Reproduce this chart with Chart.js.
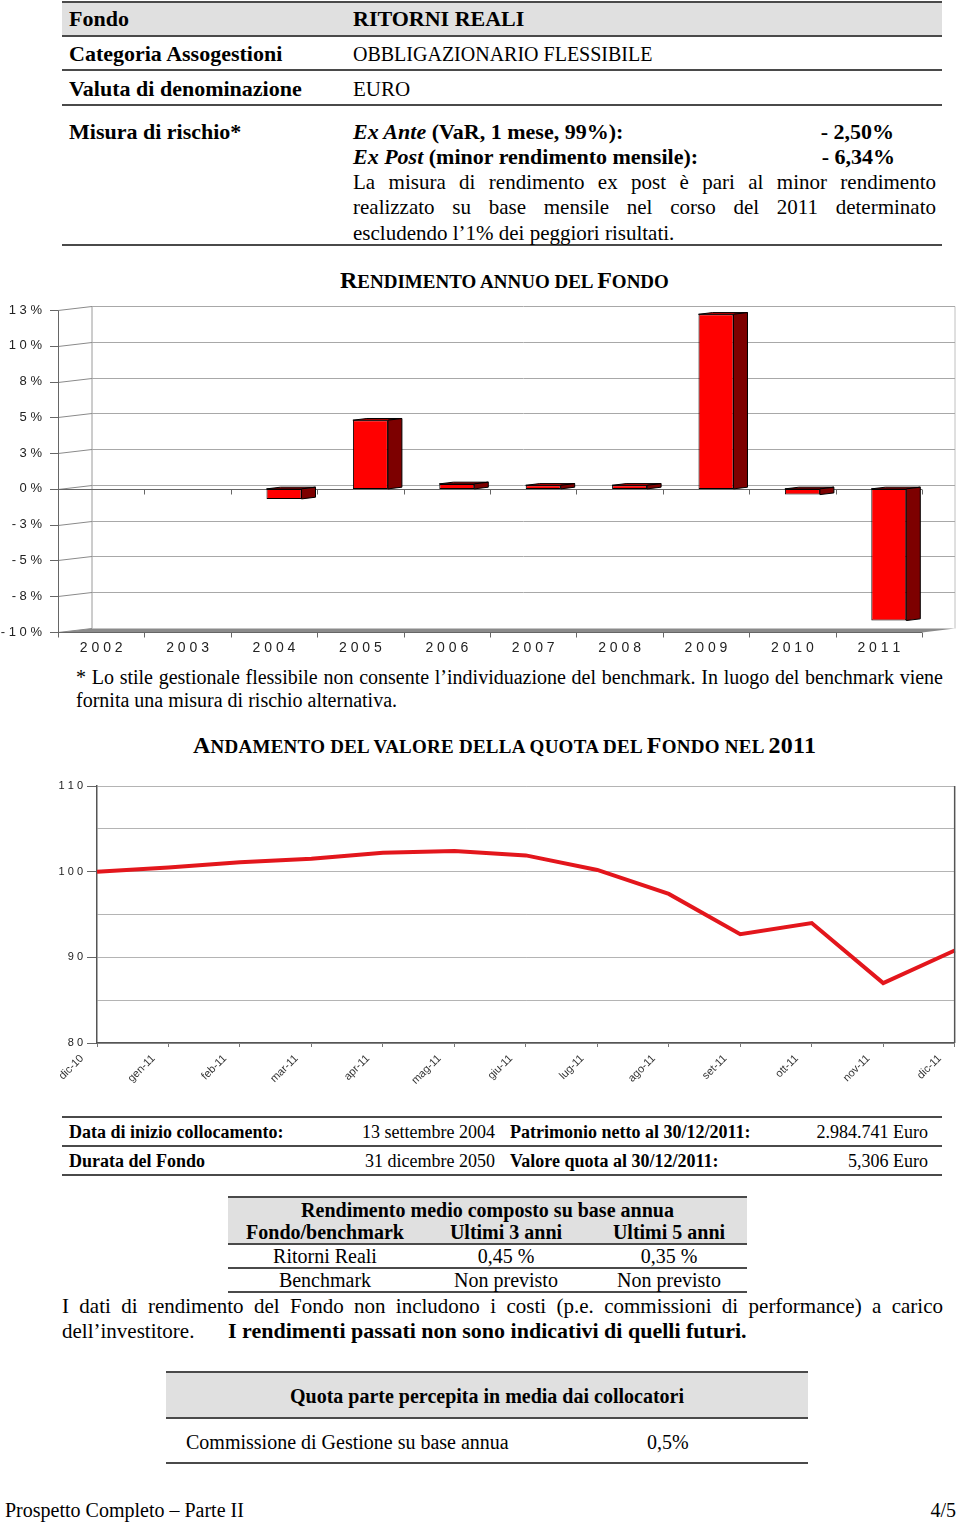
<!DOCTYPE html>
<html><head><meta charset="utf-8">
<script src="https://cdn.jsdelivr.net/npm/chart.js@4.4.1/dist/chart.umd.min.js"></script>
<style>
html,body{margin:0;padding:0;background:#fff;}
#page{position:relative;width:960px;height:1522px;overflow:hidden;background:#fff;}
.t{position:absolute;white-space:nowrap;font-family:'Liberation Serif','Times New Roman',serif;line-height:1;color:#000;}
.b{font-weight:bold;}
.hl{position:absolute;height:2px;background:#4a4a4a;}
.band{position:absolute;background:#e0e0e0;}
.j{white-space:normal;text-align:justify;text-align-last:justify;}
.big{font-size:24px;}
.sm{font-size:19px;}
canvas{position:absolute;left:0;}
</style></head>
<body><div id="page">

<!-- top table -->
<div class="band" style="left:62px;top:3px;width:880px;height:32px;"></div>
<div class="hl" style="left:62px;top:1px;width:880px;"></div>
<div class="hl" style="left:62px;top:35px;width:880px;"></div>
<div class="hl" style="left:62px;top:69px;width:880px;"></div>
<div class="hl" style="left:62px;top:104px;width:880px;"></div>
<div class="hl" style="left:62px;top:244px;width:880px;"></div>

<div class="t b" style="left:69px;top:8px;font-size:22px;">Fondo</div>
<div class="t b" style="left:353px;top:8px;font-size:22px;">RITORNI REALI</div>
<div class="t b" style="left:69px;top:43px;font-size:22px;">Categoria Assogestioni</div>
<div class="t" style="left:353px;top:44px;font-size:20px;">OBBLIGAZIONARIO FLESSIBILE</div>
<div class="t b" style="left:69px;top:78px;font-size:22px;">Valuta di denominazione</div>
<div class="t" style="left:353px;top:78.5px;font-size:21px;">EURO</div>

<div class="t b" style="left:69px;top:121px;font-size:22px;">Misura di rischio*</div>
<div class="t b" style="left:353px;top:121px;font-size:22px;"><i>Ex Ante</i> (VaR, 1 mese, 99%):</div>
<div class="t b" style="right:66px;top:121px;font-size:22px;">- 2,50%</div>
<div class="t b" style="left:353px;top:146px;font-size:22px;"><i>Ex Post</i> (minor rendimento mensile):</div>
<div class="t b" style="right:65px;top:146px;font-size:22px;">- 6,34%</div>
<div class="t j" style="left:353px;top:171.5px;width:583px;font-size:21px;">La misura di rendimento ex post è pari al minor rendimento</div>
<div class="t j" style="left:353px;top:196.5px;width:583px;font-size:21px;">realizzato su base mensile nel corso del 2011 determinato</div>
<div class="t" style="left:353px;top:222.5px;font-size:21px;">escludendo l’1% dei peggiori risultati.</div>

<!-- chart 1 -->
<div class="t b" style="left:340px;top:268px;font-size:24px;"><span class="big">R</span><span class="sm">ENDIMENTO ANNUO DEL </span><span class="big">F</span><span class="sm">ONDO</span></div>
<canvas id="bars" width="960" height="370" style="top:295px;width:960px;height:370px;"></canvas>

<div class="t j" style="left:76px;top:667px;width:867px;font-size:20px;">* Lo stile gestionale flessibile non consente l’individuazione del benchmark. In luogo del benchmark viene</div>
<div class="t" style="left:76px;top:690px;font-size:20px;">fornita una misura di rischio alternativa.</div>

<!-- chart 2 -->
<div class="t b" style="left:193px;top:733px;font-size:24px;letter-spacing:0.25px;"><span class="big">A</span><span class="sm">NDAMENTO DEL VALORE DELLA QUOTA DEL </span><span class="big">F</span><span class="sm">ONDO NEL </span><span class="big">2011</span></div>
<canvas id="line" width="969" height="315" style="top:775px;width:969px;height:315px;"></canvas>

<!-- data table -->
<div class="hl" style="left:62px;top:1116px;width:880px;"></div>
<div class="hl" style="left:62px;top:1145px;width:880px;"></div>
<div class="hl" style="left:62px;top:1174px;width:880px;"></div>
<div class="t b" style="left:69px;top:1123px;font-size:18px;">Data di inizio collocamento:</div>
<div class="t" style="right:465px;top:1123px;font-size:18px;">13 settembre 2004</div>
<div class="t b" style="left:510px;top:1123px;font-size:18px;">Patrimonio netto al 30/12/2011:</div>
<div class="t" style="right:32px;top:1123px;font-size:18px;">2.984.741 Euro</div>
<div class="t b" style="left:69px;top:1152px;font-size:18px;">Durata del Fondo</div>
<div class="t" style="right:465px;top:1152px;font-size:18px;">31 dicembre 2050</div>
<div class="t b" style="left:510px;top:1152px;font-size:18px;">Valore quota al 30/12/2011:</div>
<div class="t" style="right:32px;top:1152px;font-size:18px;">5,306 Euro</div>

<!-- rendimento table -->
<div class="band" style="left:228px;top:1198px;width:519px;height:45px;"></div>
<div class="hl" style="left:228px;top:1196px;width:519px;"></div>
<div class="hl" style="left:228px;top:1243px;width:519px;"></div>
<div class="hl" style="left:228px;top:1267px;width:519px;"></div>
<div class="hl" style="left:228px;top:1291px;width:519px;"></div>
<div class="t b" style="left:228px;top:1200px;width:519px;text-align:center;font-size:20px;">Rendimento medio composto su base annua</div>
<div class="t b" style="left:228px;top:1222px;width:194px;text-align:center;font-size:20px;">Fondo/benchmark</div>
<div class="t b" style="left:431px;top:1222px;width:150px;text-align:center;font-size:20px;">Ultimi 3 anni</div>
<div class="t b" style="left:594px;top:1222px;width:150px;text-align:center;font-size:20px;">Ultimi 5 anni</div>
<div class="t" style="left:228px;top:1246px;width:194px;text-align:center;font-size:20px;">Ritorni Reali</div>
<div class="t" style="left:431px;top:1246px;width:150px;text-align:center;font-size:20px;">0,45 %</div>
<div class="t" style="left:594px;top:1246px;width:150px;text-align:center;font-size:20px;">0,35 %</div>
<div class="t" style="left:228px;top:1270px;width:194px;text-align:center;font-size:20px;">Benchmark</div>
<div class="t" style="left:431px;top:1270px;width:150px;text-align:center;font-size:20px;">Non previsto</div>
<div class="t" style="left:594px;top:1270px;width:150px;text-align:center;font-size:20px;">Non previsto</div>

<div class="t j" style="left:62px;top:1295.5px;width:881px;font-size:21px;">I dati di rendimento del Fondo non includono i costi (p.e. commissioni di performance) a carico</div>
<div class="t" style="left:62px;top:1320.5px;font-size:21px;">dell’investitore.</div>
<div class="t b" style="left:228px;top:1320px;font-size:22px;">I rendimenti passati non sono indicativi di quelli futuri.</div>

<!-- quota box -->
<div class="band" style="left:166px;top:1373px;width:642px;height:44px;"></div>
<div class="hl" style="left:166px;top:1371px;width:642px;"></div>
<div class="hl" style="left:166px;top:1417px;width:642px;"></div>
<div class="hl" style="left:166px;top:1462px;width:642px;"></div>
<div class="t b" style="left:166px;top:1386px;width:642px;text-align:center;font-size:20px;">Quota parte percepita in media dai collocatori</div>
<div class="t" style="left:186px;top:1432px;font-size:20px;">Commissione di Gestione su base annua</div>
<div class="t" style="left:647px;top:1432px;font-size:20px;">0,5%</div>

<div class="t" style="left:5px;top:1500px;font-size:20px;">Prospetto Completo – Parte II</div>
<div class="t" style="right:4px;top:1500px;font-size:20px;">4/5</div>

</div>
<script>
// ---------- data ----------
const years = ['2002','2003','2004','2005','2006','2007','2008','2009','2010','2011'];
const annualReturns = [null, null, -0.7, 4.8, 0.35, 0.25, 0.25, 12.2, -0.4, -9.2];
const returnMin = -10;
const returnMax = 12.5;
const returnStep = 2.5;

const months = ['dic-10','gen-11','feb-11','mar-11','apr-11','mag-11','giu-11','lug-11','ago-11','set-11','ott-11','nov-11','dic-11'];
const quotaValues = [100.0, 100.5, 101.1, 101.5, 102.2, 102.4, 101.9, 100.2, 97.4, 92.7, 94.0, 87.0, 90.8];
const quotaMin = 80;
const quotaMax = 110;
const quotaStep = 5;
const quotaLabelEvery = 10;

// ---------- helpers ----------
function spaced(s){ return String(s).split('').join(' '); }
function pctLabel(v){ const r = Math.sign(v)*Math.round(Math.abs(v)); return spaced(r + '%'); }

Chart.defaults.font.family = "'Liberation Sans', Arial, sans-serif";
Chart.defaults.color = '#222';

// ---------- 3D bar chart ----------
const SHIFT = 10, DX = 34, DY = 4, BDX = 14, BDY = 1.7;
function seg(ctx, x1, y1, x2, y2){ ctx.beginPath(); ctx.moveTo(x1, y1); ctx.lineTo(x2, y2); ctx.stroke(); }

const wallPlugin = {
  id: 'wall3d',
  beforeDatasetsDraw(chart){
    const {ctx, chartArea: a, scales: {x, y}} = chart;
    const fl = a.left - SHIFT, fr = a.right - SHIFT, bl = fl + DX, br = fr + DX - 1;
    const n = x.getLabels().length, cw = (a.right - a.left) / n;
    const yTop = Math.round(y.getPixelForValue(returnMax)) + 0.5;
    const yBot = Math.round(y.getPixelForValue(returnMin)) + 0.5;
    ctx.save();
    ctx.lineWidth = 1;
    // floor
    ctx.fillStyle = '#8a8a8a';
    ctx.beginPath(); ctx.moveTo(fl, yBot); ctx.lineTo(bl, yBot - DY); ctx.lineTo(br, yBot - DY); ctx.lineTo(fr, yBot); ctx.closePath(); ctx.fill();
    // back wall edges
    ctx.strokeStyle = '#9a9a9a';
    seg(ctx, bl, yTop - DY, bl, yBot - DY);
    ctx.strokeStyle = '#c0c0c0';
    seg(ctx, br, yTop - DY, br, yBot - DY);
    // gridlines on back wall + left wall diagonals + tick marks
    y.ticks.forEach(t => {
      const yf = Math.round(y.getPixelForValue(t.value)) + 0.5, yb = yf - DY;
      if (t.value !== returnMin) { ctx.strokeStyle = '#a8a8a8'; seg(ctx, bl, yb, br, yb); }
      ctx.strokeStyle = '#8a8a8a'; seg(ctx, fl, yf, bl, yb);
      ctx.strokeStyle = '#666'; seg(ctx, fl - 8, yf, fl, yf);
    });
    // front left axis
    ctx.strokeStyle = '#666';
    seg(ctx, fl + 0.5, yTop, fl + 0.5, yBot);
    // zero line with category ticks
    const y0 = Math.round(y.getPixelForValue(0)) + 0.5;
    seg(ctx, fl, y0, fr, y0);
    seg(ctx, fl, yBot, fr, yBot);
    for (let i = 0; i <= n; i++) {
      const xb = Math.round(fl + i * cw) + 0.5;
      seg(ctx, xb, y0, xb, y0 + 5);
      seg(ctx, xb, yBot, xb, yBot + 5);
    }
    ctx.restore();
  },
  afterDatasetsDraw(chart){
    const {ctx} = chart;
    const meta = chart.getDatasetMeta(0);
    ctx.save();
    ctx.lineWidth = 1;
    ctx.strokeStyle = '#000';
    meta.data.forEach((el, i) => {
      if (annualReturns[i] === null) return;
      const p = el.getProps(['x', 'y', 'base', 'width'], true);
      const l = p.x - p.width / 2, r = p.x + p.width / 2;
      const top = Math.min(p.y, p.base), bot = Math.max(p.y, p.base);
      // top face
      ctx.fillStyle = '#e00000';
      ctx.beginPath(); ctx.moveTo(l, top); ctx.lineTo(l + BDX, top - BDY); ctx.lineTo(r + BDX, top - BDY); ctx.lineTo(r, top); ctx.closePath(); ctx.fill(); ctx.stroke();
      // side face
      ctx.fillStyle = '#7d0000';
      ctx.beginPath(); ctx.moveTo(r, top); ctx.lineTo(r + BDX, top - BDY); ctx.lineTo(r + BDX, bot - BDY); ctx.lineTo(r, bot); ctx.closePath(); ctx.fill(); ctx.stroke();
    });
    ctx.restore();
  }
};

new Chart(document.getElementById('bars'), {
  type: 'bar',
  data: { labels: years, datasets: [{
    data: annualReturns, backgroundColor: '#ff0000', borderColor: '#000', borderWidth: 1,
    borderSkipped: false, barPercentage: 0.405, categoryPercentage: 1
  }]},
  options: {
    responsive: false, animation: false, devicePixelRatio: 1,
    layout: { padding: { top: 15, right: 28, left: 0, bottom: 0 } },
    plugins: { legend: { display: false }, tooltip: { enabled: false } },
    scales: {
      x: {
        grid: { display: false, drawTicks: false }, border: { display: false },
        ticks: { callback: function(v){ return spaced(this.getLabelForValue(v)); }, labelOffset: -SHIFT, padding: 8,
                 font: { size: 14 }, color: '#222', maxRotation: 0, autoSkip: false },
        afterFit(s){ s.height = 33; }
      },
      y: {
        min: returnMin, max: returnMax,
        grid: { display: false, drawTicks: true, tickLength: 26 }, border: { display: false },
        ticks: { stepSize: returnStep, callback: v => pctLabel(v), padding: 0, font: { size: 13 }, color: '#222' },
        afterFit(s){ s.width = 68; }
      }
    }
  },
  plugins: [wallPlugin]
});

// ---------- line chart ----------
const frameRight = {
  id: 'frameRight',
  afterDatasetsDraw(chart){
    const {ctx, chartArea: a} = chart;
    ctx.save(); ctx.strokeStyle = '#555'; ctx.lineWidth = 1.5;
    seg(ctx, a.right, a.top, a.right, a.bottom);
    ctx.restore();
  }
};

new Chart(document.getElementById('line'), {
  type: 'line',
  data: { labels: months, datasets: [{
    data: quotaValues, borderColor: '#e3161c', borderWidth: 4, pointRadius: 0, tension: 0, fill: false, clip: false
  }]},
  options: {
    responsive: false, animation: false, devicePixelRatio: 1,
    layout: { padding: { top: 11, right: 5, left: 0, bottom: 0 } },
    plugins: { legend: { display: false }, tooltip: { enabled: false } },
    scales: {
      x: {
        offset: false,
        grid: { display: true, drawOnChartArea: false, drawTicks: true, tickLength: 4, color: '#777' },
        border: { color: '#555', width: 1.5 },
        ticks: { maxRotation: 45, minRotation: 45, autoSkip: false, padding: 5, labelOffset: -15, font: { size: 11 }, color: '#333' },
        afterFit(s){ s.height = 47; }
      },
      y: {
        min: quotaMin, max: quotaMax,
        grid: { color: '#b4b4b4', tickLength: 10,
                tickColor: c => (c.tick && c.tick.value % quotaLabelEvery === 0) ? '#666' : 'rgba(0,0,0,0)' },
        border: { color: '#555', width: 1.5 },
        ticks: { stepSize: quotaStep, callback: v => (v % quotaLabelEvery === 0 ? spaced(v) : ''), padding: 4,
                 font: { size: 11 }, color: '#222' },
        afterFit(s){ s.width = 97; }
      }
    }
  },
  plugins: [frameRight]
});
</script>
</body></html>
